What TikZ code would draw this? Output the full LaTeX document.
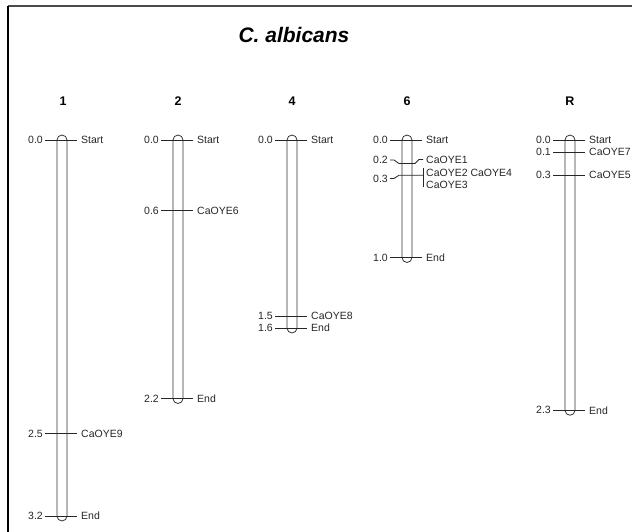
\documentclass[tikz,border=0pt]{standalone}
\usepackage{fontspec}
\setmainfont{Liberation Sans}
\tikzset{
  chromo/.style={draw=black!80, line width=0.8pt, rounded corners=5pt},
  tickline/.style={draw=black!85, line width=0.8pt},
  poslab/.style={anchor=east, inner sep=0pt, text=black!85, font=\fontsize{10.5}{12}\selectfont},
  namelab/.style={anchor=west, inner sep=0pt, text=black!85, font=\fontsize{10.5}{12}\selectfont},
  chrname/.style={inner sep=0pt, font=\fontsize{12.5}{14}\selectfont\bfseries},
}
\newcommand\chrbar[3]{% name, cx, bottom y
  \draw[chromo] (#2-5,135) rectangle (#2+5,#3+5);
  \coordinate (#1) at (#2,140);}
\newcommand\mk[5]{% id, cx, y, left, right
  \draw[tickline] (#2-17,#3) -- (#2+15,#3);
  \node[poslab] (#1l) at (#2-19,#3) {#4};
  \node[namelab] (#1r) at (#2+19,#3) {#5};}
\begin{document}
\begin{tikzpicture}[x=1pt,y=-1pt]
\useasboundingbox (0,0) rectangle (632,531);
\clip (0,0) rectangle (632,531);
% frame
\draw[black!70, line width=1.6pt] (8,6) -- (640,6);
\draw[black, line width=1.2pt] (8,6) -- (8,540);
% title
\node[inner sep=0pt, font=\fontsize{21}{24}\selectfont\bfseries\itshape] (title) at (294,35) {C. albicans};
% chromosome names
\node[chrname] (n1) at (63,101) {1};
\node[chrname] (n2) at (178,101) {2};
\node[chrname] (n4) at (292,101) {4};
\node[chrname] (n6) at (407,101) {6};
\node[chrname] (nR) at (570,101) {R};
% chromosome 1
\chrbar{c1}{62}{516}
\mk{a1}{62}{140}{0.0}{Start}
\mk{a2}{62}{433.75}{2.5}{CaOYE9}
\mk{a3}{62}{516}{3.2}{End}
% chromosome 2
\chrbar{c2}{178}{398.5}
\mk{b1}{178}{140}{0.0}{Start}
\mk{b2}{178}{210.5}{0.6}{CaOYE6}
\mk{b3}{178}{398.5}{2.2}{End}
% chromosome 4
\chrbar{c4}{292}{328}
\mk{d1}{292}{140}{0.0}{Start}
\mk{d2}{292}{316.25}{1.5}{CaOYE8}
\mk{d3}{292}{328}{1.6}{End}
% chromosome 6
\chrbar{c6}{407}{257.5}
\mk{e1}{407}{140}{0.0}{Start}
\draw[tickline] (390,160) -- (394,160) -- (399,163.5) -- (415,163.5) -- (419,159.5) -- (423,159.5);
\node[poslab] (e2l) at (388,160) {0.2};
\node[namelab] (e2r) at (426,159.5) {CaOYE1};
\draw[tickline] (390,178.5) -- (394,178.5) -- (399,175.25) -- (423,175.25);
\draw[tickline] (423,168) -- (423,187);
\node[poslab] (e3l) at (388,179) {0.3};
\node[namelab] (e3r) at (426,172.5) {CaOYE2 CaOYE4};
\node[namelab] (e4r) at (426,185) {CaOYE3};
\mk{e5}{407}{257.5}{1.0}{End}
% chromosome R
\chrbar{cR}{570}{410.25}
\mk{f1}{570}{140}{0.0}{Start}
\mk{f2}{570}{152}{0.1}{CaOYE7}
\mk{f3}{570}{175.25}{0.3}{CaOYE5}
\mk{f4}{570}{410.25}{2.3}{End}
\end{tikzpicture}
\end{document}
